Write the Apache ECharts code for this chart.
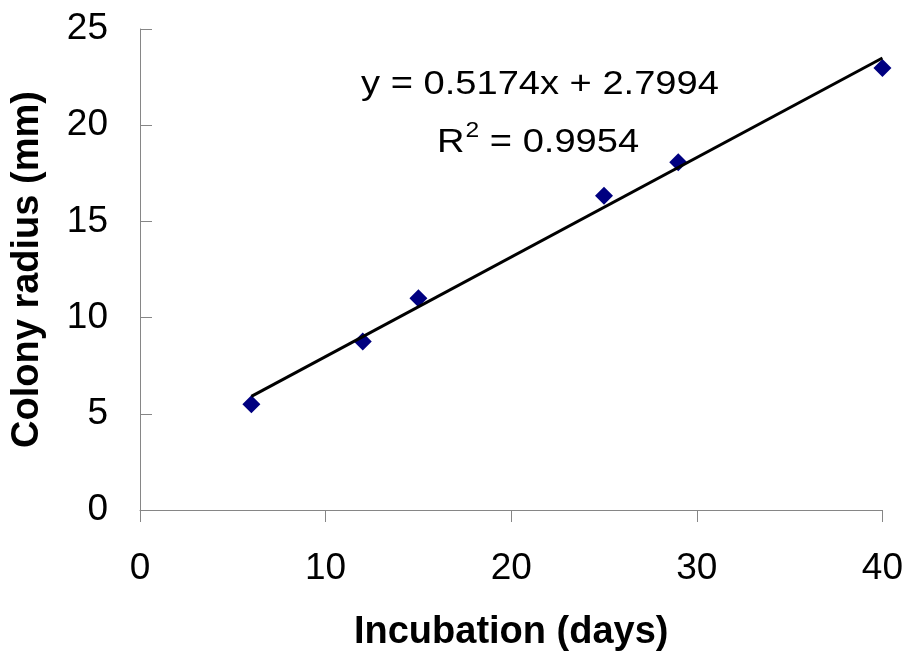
<!DOCTYPE html>
<html>
<head>
<meta charset="utf-8">
<script src="https://cdn.jsdelivr.net/npm/echarts@6/dist/echarts.min.js"></script>
<style>html,body{margin:0;padding:0;background:#fff;}#c{width:906px;height:657px;}</style>
</head>
<body>
<div id="c"></div>
<script>
var days = [6, 12, 15, 25, 29, 40];
var radius = [5.5, 8.76, 11.0, 16.33, 18.07, 22.97];
var slope = 0.5174;
var intercept = 2.7994;
var rSquared = 0.9954;
var xTicks = [0, 10, 20, 30, 40];
var yTicks = [0, 5, 10, 15, 20, 25];

var font = '"Liberation Sans", Arial, sans-serif';
var xMin = Math.min.apply(null, days), xMax = Math.max.apply(null, days);
var trend = [[xMin, slope * xMin + intercept], [xMax, slope * xMax + intercept]];

var chart = echarts.init(document.getElementById('c'), null, {renderer: 'canvas'});
chart.setOption({
  backgroundColor: '#ffffff',
  animation: false,
  grid: {left: 140, right: 22, top: 29, bottom: 145, containLabel: false},
  xAxis: {
    type: 'value', min: xTicks[0], max: xTicks[xTicks.length - 1], interval: 10,
    name: 'Incubation (days)', nameLocation: 'middle', nameGap: 104,
    nameTextStyle: {fontFamily: font, fontSize: 38, fontWeight: 'bold', color: '#000'},
    axisLine: {show: true, lineStyle: {color: '#868686', width: 1}},
    axisTick: {show: true, inside: false, length: 12, lineStyle: {color: '#868686'}},
    axisLabel: {margin: 40, fontFamily: font, fontSize: 37, color: '#000'},
    splitLine: {show: false}
  },
  yAxis: {
    type: 'value', min: yTicks[0], max: yTicks[yTicks.length - 1], interval: 5,
    name: 'Colony radius (mm)', nameLocation: 'middle', nameGap: 93,
    nameTextStyle: {fontFamily: font, fontSize: 38, fontWeight: 'bold', color: '#000'},
    axisLine: {show: true, lineStyle: {color: '#868686', width: 1}},
    axisTick: {show: true, inside: true, length: 12, lineStyle: {color: '#868686'}},
    axisLabel: {margin: 32, fontFamily: font, fontSize: 37, color: '#000'},
    splitLine: {show: false}
  },
  series: [
    {
      type: 'scatter', symbol: 'diamond', symbolSize: 18,
      itemStyle: {color: '#000080', opacity: 1},
      data: days.map(function (d, i) { return [d, radius[i]]; }),
      z: 2
    },
    {
      type: 'line', data: trend, symbol: 'none',
      lineStyle: {color: '#000000', width: 3},
      z: 3
    }
  ],
  graphic: [
    {
      type: 'text', x: 540, y: 85, scaleX: 1.12, silent: true,
      style: {
        text: 'y = ' + slope.toFixed(4) + 'x + ' + intercept.toFixed(4),
        fontFamily: font, fontSize: 34, fill: '#000',
        align: 'center', verticalAlign: 'middle'
      }
    },
    {
      type: 'text', x: 538, y: 140, scaleX: 1.12, silent: true,
      style: {
        text: '{a|R}{s|2}{a| = ' + rSquared.toFixed(4) + '}',
        rich: {
          a: {fontFamily: font, fontSize: 34, fill: '#000', color: '#000', verticalAlign: 'bottom', lineHeight: 40},
          s: {fontFamily: font, fontSize: 22, fill: '#000', color: '#000', verticalAlign: 'top', lineHeight: 40, padding: [0, 0, 0, 1]}
        },
        align: 'center', verticalAlign: 'middle'
      }
    }
  ]
});
</script>
</body>
</html>
